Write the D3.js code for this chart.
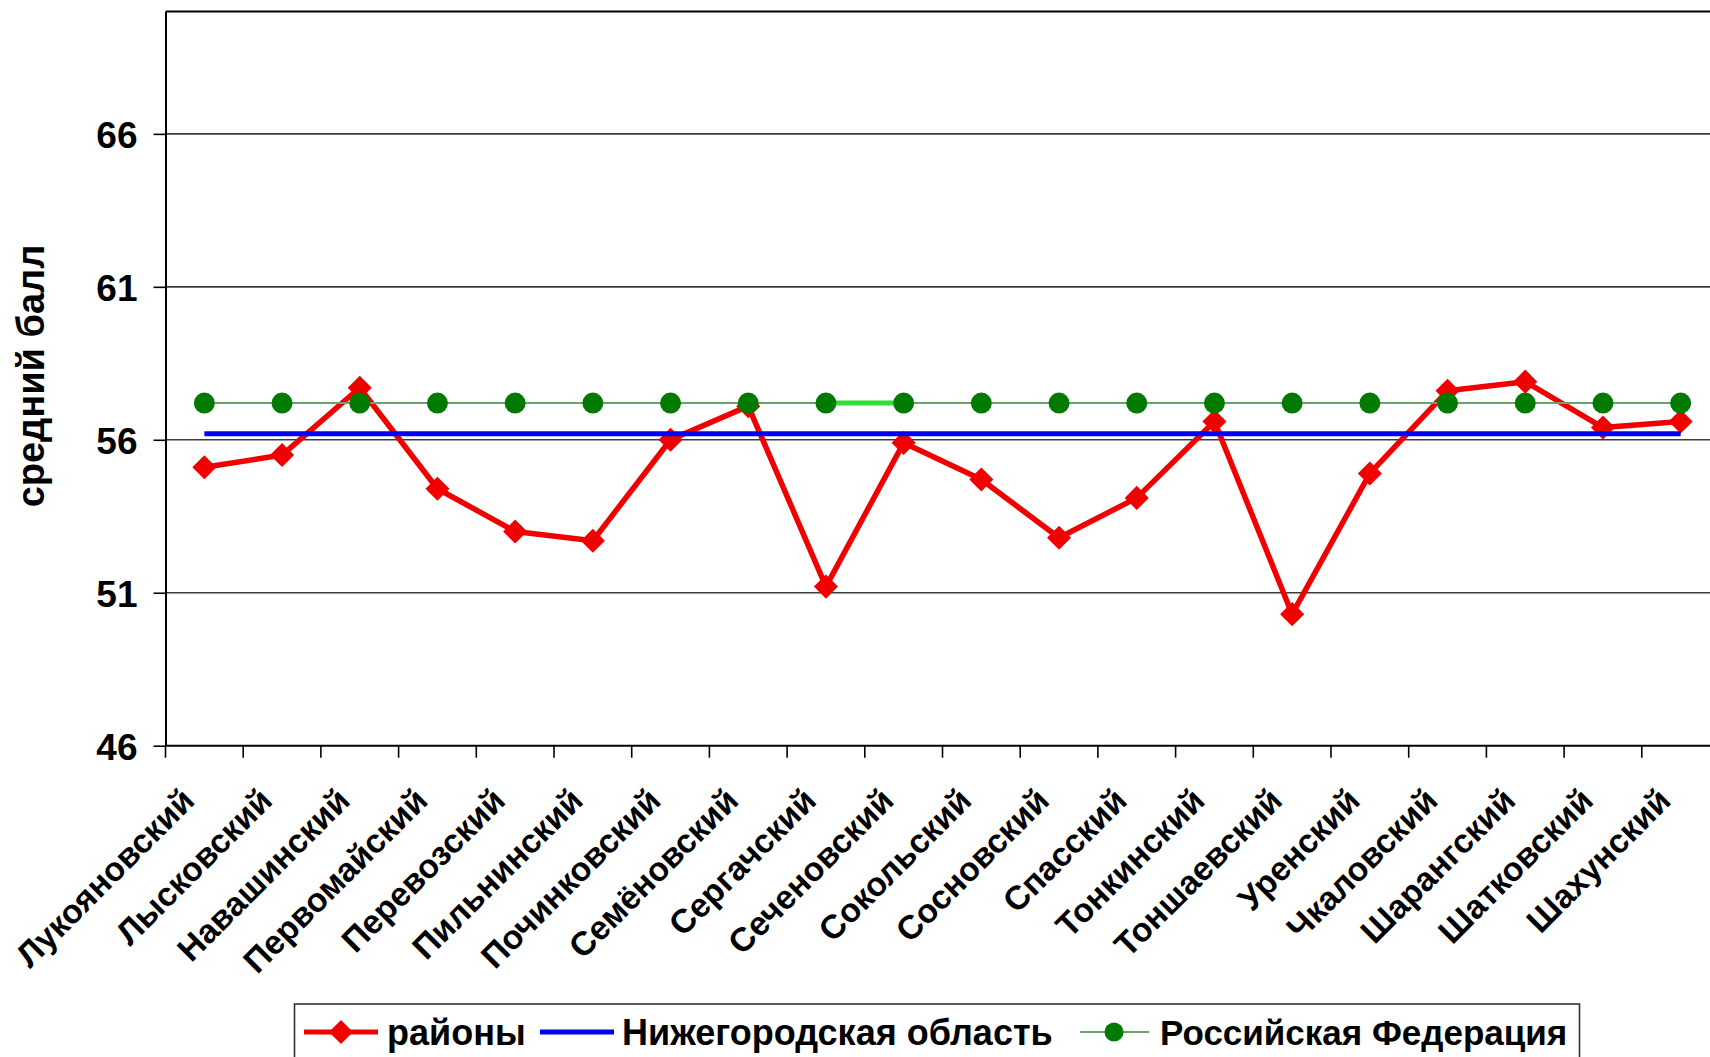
<!DOCTYPE html>
<html><head><meta charset="utf-8">
<script src="https://cdn.jsdelivr.net/npm/d3@7"></script>
<style>
body{margin:0;background:#fff}
svg{display:block}
text{font-family:"Liberation Sans",Arial,sans-serif;font-weight:bold;fill:#000}
</style>
</head><body><svg id="c" width="1710" height="1057"></svg>
<script>
const categories = ["Лукояновский","Лысковский","Навашинский","Первомайский","Перевозский","Пильнинский","Починковский","Семёновский","Сергачский","Сеченовский","Сокольский","Сосновский","Спасский","Тонкинский","Тоншаевский","Уренский","Чкаловский","Шарангский","Шатковский","Шахунский"];
const districtValues = [55.1,55.5,57.7,54.4,53.0,52.7,56.0,57.1,51.2,55.9,54.7,52.8,54.1,56.6,50.3,54.9,57.6,57.9,56.4,56.6];
const regionValues = [56.2,56.2,56.2,56.2,56.2,56.2,56.2,56.2,56.2,56.2,56.2,56.2,56.2,56.2,56.2,56.2,56.2,56.2,56.2,56.2];
const russiaValues = [57.2,57.2,57.2,57.2,57.2,57.2,57.2,57.2,57.2,57.2,57.2,57.2,57.2,57.2,57.2,57.2,57.2,57.2,57.2,57.2];
const yTicks = [46,51,56,61,66];
const yDomain = [46,70];
const seriesNames = ["районы","Нижегородская область","Российская Федерация"];
const yTitle = "средний балл";

const svg = d3.select("#c");
svg.append("rect").attr("width",1710).attr("height",1057).attr("fill","#fff");

const L = 165.5, R = 1719.5, T = 11.5, B = 745.7;
const x = d3.scaleBand().domain(categories).range([L, R]);
const y = d3.scaleLinear().domain(yDomain).range([B, T]);
const cx = c => x(c) + x.bandwidth()/2;

// gridlines
svg.append("g").selectAll("line").data(yTicks.slice(1)).join("line")
  .attr("x1", L).attr("x2", R)
  .attr("y1", d => y(d)).attr("y2", d => y(d))
  .attr("stroke", "#3c3c3c").attr("stroke-width", 1.6);
// top border
svg.append("line").attr("x1", L).attr("x2", R).attr("y1", y(yDomain[1])).attr("y2", y(yDomain[1]))
  .attr("stroke", "#000").attr("stroke-width", 2);

// y axis
const yAxis = svg.append("g").attr("transform", `translate(${L},0)`)
  .call(d3.axisLeft(y).tickValues(yTicks).tickSize(12).tickSizeOuter(0).tickPadding(16).tickFormat(d3.format("d")));
yAxis.select(".domain").attr("stroke", "#000").attr("stroke-width", 2);
yAxis.selectAll(".tick line").attr("stroke", "#000").attr("stroke-width", 1.6);
yAxis.selectAll(".tick text").attr("font-size", 37).attr("font-family", null).attr("dy", "0.36em");

// x axis baseline and ticks at category boundaries
svg.append("line").attr("x1", L).attr("x2", R).attr("y1", B).attr("y2", B).attr("stroke", "#000").attr("stroke-width", 2);
svg.append("g").selectAll("line").data(categories).join("line")
  .attr("x1", d => x(d)).attr("x2", d => x(d)).attr("y1", B).attr("y2", B + 12)
  .attr("stroke", "#000").attr("stroke-width", 1.6);
svg.append("g").selectAll("text").data(categories).join("text")
  .attr("transform", d => `translate(${cx(d) - 8},${B + 57}) rotate(-45)`)
  .attr("text-anchor", "end").attr("font-size", 33.5).text(d => d);

// y title
svg.append("text").attr("transform", "translate(44,376) rotate(-90)")
  .attr("text-anchor", "middle").attr("font-size", 38).text(yTitle);

const line = d3.line().x(d => cx(d.c)).y(d => y(d.v));
const districts = categories.map((c, i) => ({c, v: districtValues[i]}));
const region = categories.map((c, i) => ({c, v: regionValues[i]}));
const russia = categories.map((c, i) => ({c, v: russiaValues[i]}));

const RED = "#f00000", BLUE = "#0000f0", GDARK = "#007a00", GLINE = "#6aa46a";
const diamond = d3.symbol(d3.symbolSquare, 290);

// districts
svg.append("path").datum(districts).attr("d", line).attr("fill", "none")
  .attr("stroke", RED).attr("stroke-width", 5.5).attr("stroke-linejoin", "round");
svg.append("g").selectAll("path").data(districts).join("path")
  .attr("d", diamond).attr("transform", d => `translate(${cx(d.c)},${y(d.v)}) rotate(45)`)
  .attr("fill", RED);

// region
svg.append("path").datum(region).attr("d", line).attr("fill", "none")
  .attr("stroke", BLUE).attr("stroke-width", 5);

// russia
svg.append("path").datum(russia).attr("d", line).attr("fill", "none")
  .attr("stroke", GLINE).attr("stroke-width", 2);
svg.append("path").datum(russia.slice(8, 10)).attr("d", line).attr("fill", "none")
  .attr("stroke", "#33dd33").attr("stroke-width", 5);
svg.append("g").selectAll("circle").data(russia).join("circle")
  .attr("cx", d => cx(d.c)).attr("cy", d => y(d.v)).attr("r", 10.5).attr("fill", GDARK);

// legend
const lg = svg.append("g");
lg.append("rect").attr("x", 294.5).attr("y", 1004).attr("width", 1285).attr("height", 80)
  .attr("fill", "#fff").attr("stroke", "#333").attr("stroke-width", 1.6);
const ly = 1032;
lg.append("line").attr("x1", 304).attr("x2", 378).attr("y1", ly).attr("y2", ly).attr("stroke", RED).attr("stroke-width", 5);
lg.append("path").attr("d", diamond).attr("transform", `translate(341,${ly}) rotate(45)`).attr("fill", RED);
lg.append("text").attr("x", 387).attr("y", ly + 13).attr("font-size", 36).text(seriesNames[0]);
lg.append("line").attr("x1", 540).attr("x2", 614).attr("y1", ly).attr("y2", ly).attr("stroke", BLUE).attr("stroke-width", 5);
lg.append("text").attr("x", 622).attr("y", ly + 13).attr("font-size", 36).text(seriesNames[1]);
lg.append("line").attr("x1", 1080).attr("x2", 1149).attr("y1", ly).attr("y2", ly).attr("stroke", GLINE).attr("stroke-width", 2);
lg.append("circle").attr("cx", 1114).attr("cy", ly).attr("r", 9.5).attr("fill", GDARK);
lg.append("text").attr("x", 1160).attr("y", ly + 13).attr("font-size", 35).text(seriesNames[2]);
</script></body></html>
